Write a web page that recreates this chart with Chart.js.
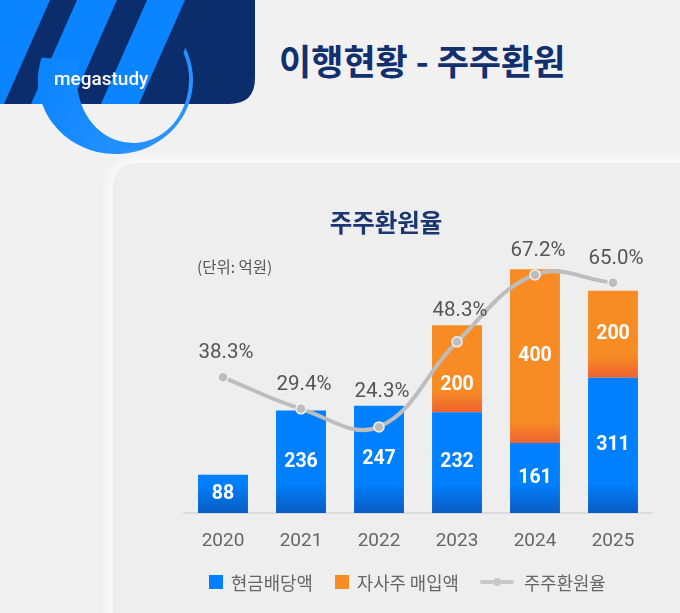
<!DOCTYPE html>
<html>
<head>
<meta charset="utf-8">
<script src="https://cdn.jsdelivr.net/npm/chart.js@4.4.1/dist/chart.umd.min.js"></script>
<style>
  html, body { margin: 0; padding: 0; }
  body {
    width: 680px; height: 613px; position: relative; overflow: hidden;
    background: #f1f1f1;
    font-family: Roboto, "Noto Sans CJK KR", sans-serif;
  }
  #logo { position: absolute; left: 0; top: 0; }
  #pageTitle {
    position: absolute; left: 279px; top: 34px; line-height: 46px;
    font: 700 35px "Noto Sans CJK KR"; color: #12306e; letter-spacing: 0;
  }
  #card {
    position: absolute; left: 113px; top: 163px; width: 620px; height: 500px;
    border-radius: 22px; background: #eeeeee;
    box-shadow: 0 0 10px 6px rgba(255,255,255,0.6);
  }
  #chartTitle {
    position: absolute; left: 286px; top: 204px; width: 200px; line-height: 30px;
    text-align: center; font: 700 24.5px "Noto Sans CJK KR"; color: #1b3670;
  }
  #unit {
    position: absolute; left: 197px; top: 255px; line-height: 20px;
    font: 15.5px "Noto Sans CJK KR"; color: #555;
  }
  #wrap { position: absolute; left: 120px; top: 230px; width: 560px; height: 330px; }
  #legend {
    position: absolute; left: 209px; top: 571px; height: 22px;
    display: flex; align-items: center;
    font: 17.8px "Noto Sans CJK KR"; color: #666;
  }
  #legend .item { display: flex; align-items: center; }
  #legend .sq { width: 14px; height: 14px; margin-right: 8px; }
  #legend canvas { margin-right: 10px; }
</style>
</head>
<body>
<canvas id="logo" width="260" height="170"></canvas>
<div id="pageTitle">이행현황 - 주주환원</div>
<div id="card"></div>
<div id="chartTitle">주주환원율</div>
<div id="unit">(단위: 억원)</div>
<div id="wrap"><canvas id="chart"></canvas></div>
<div id="legend"></div>

<script>
(function () {
  "use strict";

  const years = ["2020", "2021", "2022", "2023", "2024", "2025"];
  const cashDividend = [88, 236, 247, 232, 161, 311];     // 현금배당액 (억원)
  const buyback = [null, null, null, 200, 400, 200];      // 자사주 매입액 (억원)
  const returnRate = [38.3, 29.4, 24.3, 48.3, 67.2, 65.0]; // 주주환원율 (%)

  const COLORS = {
    blue: "#0080ff",
    blueDark: "#0a5cc2",
    orange: "#f78c24",
    orangeDark: "#ee6230",
    line: "#bdbdbd",
    text: "#555555",
  };

  // header logo block
  (function drawLogo() {
    const c = document.getElementById("logo").getContext("2d");
    c.fillStyle = "#0c2d6b";
    c.beginPath();
    c.moveTo(0, 0); c.lineTo(255, 0); c.lineTo(255, 78);
    c.quadraticCurveTo(255, 104, 229, 104);
    c.lineTo(0, 104); c.closePath();
    c.fill();
    c.save();
    c.clip();
    c.fillStyle = "#0a84ff";
    [[-10, 50], [77, 117], [147, 185]].forEach(([a, b]) => {
      c.beginPath();
      c.moveTo(a, 0); c.lineTo(b, 0); c.lineTo(b - 46, 104); c.lineTo(a - 46, 104);
      c.closePath(); c.fill();
    });
    c.restore();
    const g = c.createLinearGradient(40, 60, 190, 150);
    g.addColorStop(0, "#0a84ff");
    g.addColorStop(1, "#2f95ff");
    c.fillStyle = g;
    c.beginPath();
    c.ellipse(115.5, 80, 77.5, 74, 0, -0.45, 3.45, false);
    c.ellipse(133, 80, 56, 63, 0, 3.45, -0.45, true);
    c.closePath();
    c.fill();
    c.fillStyle = "#ffffff";
    c.font = "500 19px Roboto";
    c.textBaseline = "middle";
    c.fillText("megastudy", 54, 80);
  })();

  // blue gradient sits on the baseline, orange gradient on each segment's base
  function blueFill(ctx) {
    const area = ctx.chart.chartArea;
    if (!area) return COLORS.blue;
    const g = ctx.chart.ctx.createLinearGradient(0, area.bottom, 0, area.bottom - 30);
    g.addColorStop(0, COLORS.blueDark);
    g.addColorStop(1, COLORS.blue);
    return g;
  }

  function orangeFill(ctx) {
    const chart = ctx.chart;
    if (!chart.chartArea) return COLORS.orange;
    const base = chart.scales.y.getPixelForValue(cashDividend[ctx.dataIndex]);
    const g = chart.ctx.createLinearGradient(0, base, 0, base - 22);
    g.addColorStop(0, COLORS.orangeDark);
    g.addColorStop(1, COLORS.orange);
    return g;
  }

  const valueLabels = {
    id: "valueLabels",
    afterDatasetsDraw(chart) {
      const c = chart.ctx;
      const lineMeta = chart.getDatasetMeta(2);
      c.save();
      c.textAlign = "center";
      c.textBaseline = "middle";
      c.fillStyle = "#ffffff";
      c.font = "700 19.5px Roboto";
      [0, 1].forEach((di) => {
        const meta = chart.getDatasetMeta(di);
        meta.data.forEach((bar, i) => {
          const v = chart.data.datasets[di].data[i];
          if (v == null) return;
          const p = bar.getProps(["x", "y", "base"], true);
          let cy = (p.y + p.base) / 2;
          const py = lineMeta.data[i].y;
          if (cy - py >= 0 && cy - py < 30) cy = py + 43; // keep clear of the line marker
          c.fillText(String(v), p.x, cy);
        });
      });
      c.fillStyle = COLORS.text;
      c.font = "20.5px Roboto";
      lineMeta.data.forEach((pt, i) => {
        const total = cashDividend[i] + (buyback[i] || 0);
        const top = chart.scales.y.getPixelForValue(total);
        const y = Math.min(pt.y - 24, top - 14);
        c.fillText(returnRate[i].toFixed(1) + "%", pt.x + 3, y);
      });
      c.restore();
    },
  };

  const chart = new Chart(document.getElementById("chart"), {
    data: {
      labels: years,
      datasets: [
        {
          type: "bar",
          label: "현금배당액",
          data: cashDividend,
          backgroundColor: blueFill,
          legendColor: COLORS.blue,
          stack: "s",
          order: 2,
          barPercentage: 0.64,
          categoryPercentage: 1,
        },
        {
          type: "bar",
          label: "자사주 매입액",
          data: buyback,
          backgroundColor: orangeFill,
          legendColor: COLORS.orange,
          stack: "s",
          order: 2,
          barPercentage: 0.64,
          categoryPercentage: 1,
        },
        {
          type: "line",
          label: "주주환원율",
          data: returnRate,
          yAxisID: "y2",
          borderColor: COLORS.line,
          borderWidth: 4,
          tension: 0.4,
          pointRadius: 5,
          pointBackgroundColor: COLORS.line,
          pointBorderColor: "#f2f2f2",
          pointBorderWidth: 1.5,
          order: 0,
        },
      ],
    },
    options: {
      responsive: true,
      maintainAspectRatio: false,
      animation: false,
      layout: { padding: { left: 64, right: 28, top: 30, bottom: 7 } },
      plugins: { legend: { display: false }, tooltip: { enabled: false } },
      scales: {
        x: {
          stacked: true,
          grid: { display: false, drawTicks: false },
          border: { display: true, color: "#dcdcdc", width: 2 },
          ticks: { color: "#666", font: { family: "Roboto", size: 19 }, padding: 17 },
          afterFit(axis) { axis.height = 40; },
        },
        y: { stacked: true, display: false, min: 0, max: 582 },
        y2: { display: false, min: 0, max: 71.4 },
      },
    },
    plugins: [valueLabels],
  });

  // legend built from the chart's datasets
  const legend = document.getElementById("legend");
  const gaps = [0, 22, 21];
  chart.data.datasets.forEach((ds, i) => {
    const item = document.createElement("div");
    item.className = "item";
    item.style.marginLeft = gaps[i] + "px";
    if (ds.type === "bar") {
      const sq = document.createElement("span");
      sq.className = "sq";
      sq.style.background = ds.legendColor;
      item.appendChild(sq);
    } else {
      const icon = document.createElement("canvas");
      icon.width = 34; icon.height = 10;
      const c = icon.getContext("2d");
      c.strokeStyle = "#c8c8c8"; c.lineWidth = 4; c.lineCap = "round";
      c.beginPath(); c.moveTo(2, 5); c.lineTo(12, 5); c.moveTo(22, 5); c.lineTo(32, 5); c.stroke();
      c.fillStyle = "#c8c8c8";
      c.beginPath(); c.arc(17, 5, 4, 0, Math.PI * 2); c.fill();
      item.appendChild(icon);
    }
    const t = document.createElement("span");
    t.textContent = ds.label;
    item.appendChild(t);
    legend.appendChild(item);
  });
})();
</script>
</body>
</html>
